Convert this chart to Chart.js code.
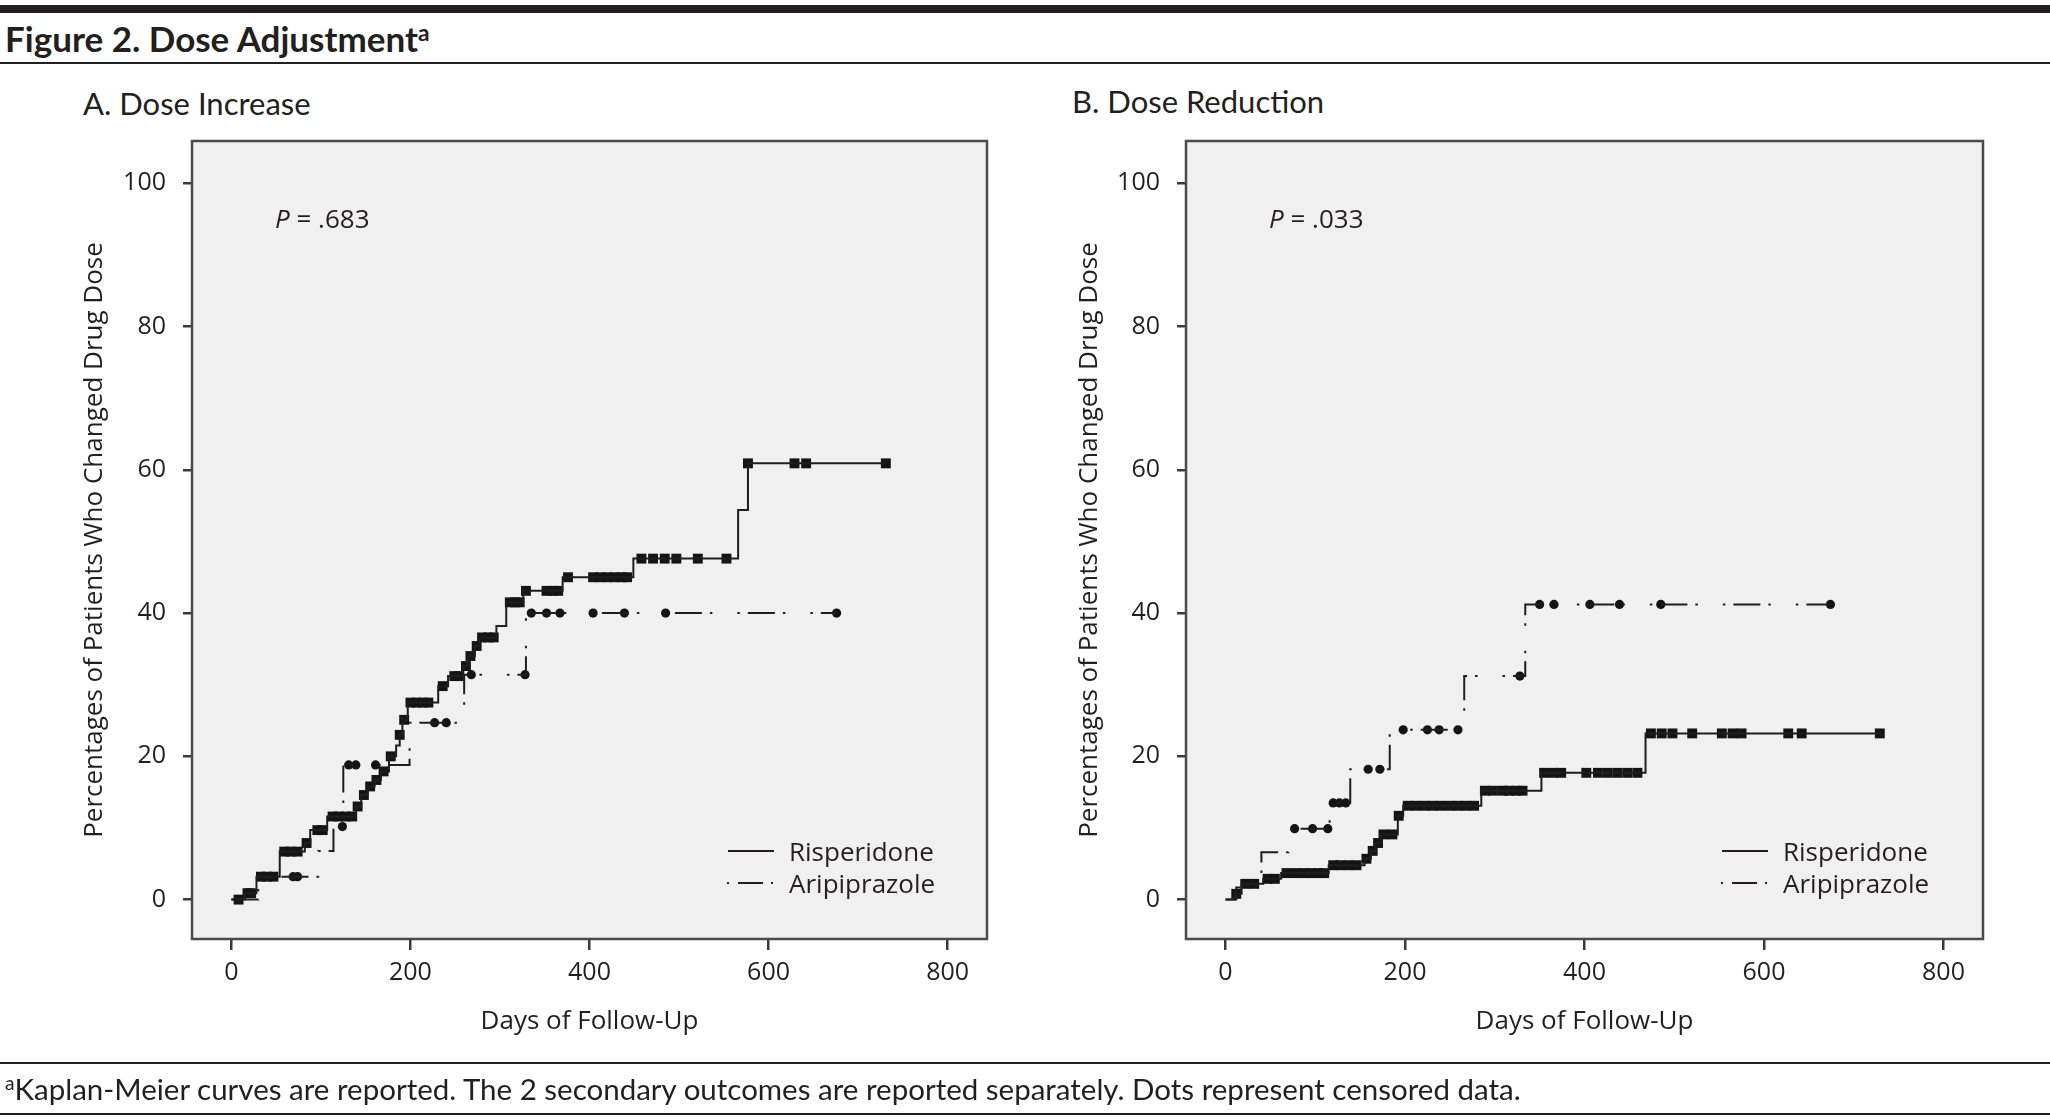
<!DOCTYPE html>
<html><head><meta charset="utf-8">
<script src="https://cdn.jsdelivr.net/npm/chart.js@4.4.1/dist/chart.umd.min.js"></script>
<style>
html,body{margin:0;padding:0;background:#fff;}
body{width:2050px;height:1120px;position:relative;overflow:hidden;color:#231f20;font-family:Lato,"Open Sans",sans-serif;}
.abs{position:absolute;white-space:nowrap;}
.rule{position:absolute;left:0;width:2050px;background:#231f20;}
#title{left:5px;top:38px;transform:translateY(-50%);font:700 35px Lato;}
#title sup,#foot sup{font-size:65%;vertical-align:0;position:relative;top:-0.5em;}
.sub{font:400 31px Lato;transform:translateY(-50%);}
.pv{font:400 26px "Open Sans";transform:translateY(-50%);}
.lg{font:400 26px "Open Sans";transform:translateY(-50%);}
#foot{left:5px;top:1088px;transform:translateY(-50%);font:400 29.5px Lato;}
canvas{position:absolute;}
</style>
</head><body>
<div class="rule" style="top:5px;height:8px"></div>
<div class="abs" id="title">Figure 2. Dose Adjustment<sup>a</sup></div>
<div class="rule" style="top:62px;height:2px"></div>

<div class="abs sub" style="left:83px;top:103px">A. Dose Increase</div>
<div class="abs sub" style="left:1072px;top:101px">B. Dose Reduction</div>

<canvas id="cA" width="950" height="930" style="left:60px;top:120px"></canvas>
<canvas id="cB" width="950" height="930" style="left:1055px;top:120px"></canvas>

<div class="abs pv" style="left:275px;top:218px"><i>P</i> = .683</div>
<div class="abs pv" style="left:1269px;top:218px"><i>P</i> = .033</div>

<svg class="abs" style="left:0;top:0" width="2050" height="1120">
  <g stroke="#231f20" stroke-width="2" fill="none">
    <line x1="728" y1="851" x2="774" y2="851"/>
    <line x1="727" y1="883" x2="775" y2="883" stroke-dasharray="2 9 25 8 2 100"/>
    <line x1="1722" y1="851" x2="1768" y2="851"/>
    <line x1="1721" y1="883" x2="1769" y2="883" stroke-dasharray="2 9 25 8 2 100"/>
  </g>
</svg>
<div class="abs lg" style="left:789px;top:851px">Risperidone</div>
<div class="abs lg" style="left:789px;top:883px">Aripiprazole</div>
<div class="abs lg" style="left:1783px;top:851px">Risperidone</div>
<div class="abs lg" style="left:1783px;top:883px">Aripiprazole</div>

<div class="rule" style="top:1062px;height:2px"></div>
<div class="abs" id="foot"><sup>a</sup>Kaplan-Meier curves are reported. The 2 secondary outcomes are reported separately. Dots represent censored data.</div>
<div class="rule" style="top:1113px;height:2px"></div>

<script>
// ---------- tick labels ----------
const xTicks = [0, 200, 400, 600, 800];
const yTicks = [0, 20, 40, 60, 80, 100];

// ---------- Panel A: Dose Increase ----------
const risA_days = [0, 15, 28, 54, 82, 88, 107, 139, 145, 152, 160, 167, 176, 184, 188, 191, 197, 231, 242, 259, 264, 272, 277, 296, 307, 326, 370, 449, 566, 577, 731];
const risA_pct  = [0, 0.9, 3.2, 6.7, 7.9, 9.7, 11.6, 13.0, 14.6, 15.8, 16.7, 17.9, 20.0, 21.5, 23.0, 25.1, 27.5, 29.8, 31.2, 32.6, 34.0, 35.4, 36.6, 38.2, 41.5, 43.1, 45.0, 47.6, 54.4, 60.9, 60.9];
const risA_cens = [8, 18, 22, 33, 40, 47, 59, 66, 74, 84, 96, 102, 113, 120, 128, 135, 141, 148, 155, 162, 170, 178, 188, 193, 200, 207, 214, 220, 236, 249, 254, 262, 267, 274, 280, 287, 293, 311, 317, 322, 329, 352, 359, 365, 376, 404, 412, 420, 428, 436, 442, 458, 471, 484, 497, 521, 553, 577, 629, 642, 731];
const ariA_days = [0, 30, 97, 114, 125, 199, 260, 329, 676];
const ariA_pct  = [0, 3.2, 6.8, 10.2, 18.8, 24.7, 31.4, 40.0, 40.0];
const ariA_cens = [69, 74, 124, 131, 139, 161, 227, 240, 268, 328, 335, 352, 367, 404, 439, 485, 676];

// ---------- Panel B: Dose Reduction ----------
const risB_days = [0, 10, 18, 42, 62, 115, 155, 162, 167, 173, 192, 198, 285, 352, 468, 731];
const risB_pct  = [0, 0.8, 2.2, 2.9, 3.7, 4.8, 5.7, 6.8, 7.9, 9.1, 11.7, 13.1, 15.2, 17.7, 23.2, 23.2];
const risB_cens = [12, 22, 32, 47, 55, 68, 78, 87, 95, 103, 110, 120, 128, 137, 146, 157, 164, 170, 176, 186, 193, 203, 212, 222, 231, 240, 250, 259, 268, 277, 289, 298, 309, 316, 324, 331, 355, 365, 374, 402, 415, 426, 437, 448, 459, 474, 486, 498, 520, 553, 565, 575, 627, 642, 729];
const ariB_days = [0, 12, 25, 40, 70, 116, 139, 183, 266, 334, 674];
const ariB_pct  = [0, 1.7, 3.4, 6.6, 9.9, 13.5, 18.2, 23.7, 31.2, 41.2, 41.2];
const ariB_cens = [77, 97, 114, 120, 127, 134, 159, 172, 198, 225, 238, 259, 328, 350, 366, 406, 439, 485, 674];

// level of a Kaplan-Meier step curve at a given day (censor marks sit on the curve)
function levelAt(days, pct, d) {
  let v = pct[0];
  for (let i = 0; i < days.length; i++) { if (days[i] <= d) v = pct[i]; }
  return v;
}
function pts(days, pct) { return days.map((d, i) => ({x: d, y: pct[i]})); }
function censPts(cens, days, pct) { return cens.map(d => ({x: d, y: levelAt(days, pct, d)})); }

Chart.defaults.color = '#231f20';
Chart.defaults.font.family = '"Open Sans", sans-serif';

const framePlugin = {
  id: 'frame',
  beforeDraw(chart) {
    const {ctx, chartArea: a} = chart;
    ctx.save();
    ctx.fillStyle = '#f0f0f0';
    ctx.fillRect(a.left, a.top, a.right - a.left, a.bottom - a.top);
    ctx.restore();
  },
  afterDraw(chart) {
    const {ctx, chartArea: a} = chart;
    ctx.save();
    ctx.strokeStyle = '#4a4a4a';
    ctx.lineWidth = 2.5;
    ctx.strokeRect(a.left, a.top, a.right - a.left, a.bottom - a.top);
    ctx.restore();
  }
};

const ARI_DASH = [27, 8, 2.5, 25, 2.5, 8];

function noPad(s) { s.paddingTop = 0; s.paddingBottom = 0; s.paddingLeft = 0; s.paddingRight = 0; }

function makePanel(id, yWidth, padRight, rD, rP, rC, aD, aP, aC) {
  new Chart(document.getElementById(id), {
    type: 'scatter',
    data: {
      datasets: [
        {label: 'Risperidone', data: pts(rD, rP), showLine: true, stepped: 'before',
         borderColor: '#1e1e1e', borderWidth: 2, pointRadius: 0, fill: false},
        {label: 'Aripiprazole', data: pts(aD, aP), showLine: true, stepped: 'before',
         borderColor: '#1e1e1e', borderWidth: 2, borderDash: ARI_DASH, pointRadius: 0, fill: false},
        {label: 'Risperidone censored', data: censPts(rC, rD, rP), showLine: false,
         pointStyle: 'rect', pointRadius: 7, backgroundColor: '#141414', borderWidth: 0},
        {label: 'Aripiprazole censored', data: censPts(aC, aD, aP), showLine: false,
         pointStyle: 'circle', pointRadius: 4.6, backgroundColor: '#141414', borderWidth: 0}
      ]
    },
    options: {
      responsive: false, animation: false, devicePixelRatio: 1,
      layout: {padding: {top: 21, right: padRight, left: 0, bottom: 0}},
      plugins: {legend: {display: false}, tooltip: {enabled: false}},
      scales: {
        x: {
          type: 'linear', min: -44, max: 844,
          afterBuildTicks: s => { s.ticks = xTicks.map(v => ({value: v})); },
          afterFit: s => { s.height = 111; noPad(s); },
          grid: {drawOnChartArea: false, drawTicks: true, tickLength: 11, color: '#3a3a3a', tickColor: '#3a3a3a', lineWidth: 2.5},
          border: {display: false},
          ticks: {padding: 8, font: {size: 25}, color: '#231f20', maxRotation: 0},
          title: {display: true, text: 'Days of Follow-Up', font: {size: 26}, color: '#231f20', padding: {top: 0, bottom: 13}}
        },
        y: {
          type: 'linear', min: -5.5, max: 105.9,
          afterBuildTicks: s => { s.ticks = yTicks.map(v => ({value: v})); },
          afterFit: s => { s.width = yWidth; noPad(s); },
          grid: {drawOnChartArea: false, drawTicks: true, tickLength: 9, color: '#3a3a3a', tickColor: '#3a3a3a', lineWidth: 2.5},
          border: {display: false},
          ticks: {padding: 17, font: {size: 25}, color: '#231f20'},
          title: {display: true, text: 'Percentages of Patients Who Changed Drug Dose', font: {size: 26}, color: '#231f20', padding: {top: 19, bottom: 0}}
        }
      }
    },
    plugins: [framePlugin]
  });
}

makePanel('cA', 132, 23, risA_days, risA_pct, risA_cens, ariA_days, ariA_pct, ariA_cens);
makePanel('cB', 131, 22, risB_days, risB_pct, risB_cens, ariB_days, ariB_pct, ariB_cens);
</script>
</body></html>
